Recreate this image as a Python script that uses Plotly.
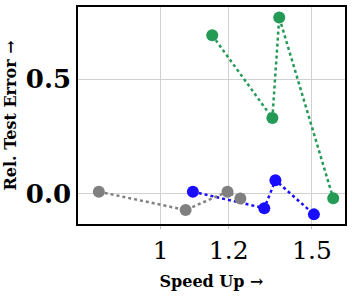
import plotly.graph_objects as go

gray_x = [0.847, 1.069, 1.196, 1.238]
gray_y = [0.010, -0.070, 0.010, -0.020]
blue_x = [1.090, 1.320, 1.360, 1.508]
blue_y = [0.010, -0.062, 0.060, -0.089]
green_x = [1.148, 1.349, 1.374, 1.588]
green_y = [0.692, 0.331, 0.770, -0.019]

x_ticks = [1, 1.2, 1.5]
x_ticktext = ["1", "1.2", "1.5"]
y_ticks = [0.0, 0.5]
y_ticktext = ["0.0", "0.5"]

FONT = "DejaVu Serif"

fig = go.Figure()
for xs, ys, col in [(blue_x, blue_y, "#1a0dff"), (gray_x, gray_y, "#808080"), (green_x, green_y, "#249a57")]:
    fig.add_trace(go.Scatter(x=xs, y=ys, mode="lines+markers",
                             line=dict(color=col, width=2.5, dash="dot"),
                             marker=dict(color=col, size=12),
                             showlegend=False))

fig.update_layout(
    width=352, height=296,
    margin=dict(l=78, r=7, t=7, b=72, autoexpand=False),
    paper_bgcolor="white", plot_bgcolor="white",
    font=dict(family=FONT, color="black"),
)
fig.update_xaxes(type="log", range=[-0.0964, 0.2146],
                 tickvals=x_ticks, ticktext=x_ticktext,
                 tickfont=dict(size=25, family=FONT),
                 showgrid=True, gridcolor="#d0d0d0", gridwidth=1,
                 showline=True, linecolor="black", linewidth=1.5, mirror=True,
                 ticks="outside", ticklen=3, tickcolor="#c0c0c0",
                 zeroline=False,
                 title=dict(text="<b>Speed Up →</b>", font=dict(size=16, family=FONT), standoff=12))
fig.update_yaxes(range=[-0.131, 0.8155],
                 tickvals=y_ticks, ticktext=["<b>%s</b>" % t for t in y_ticktext],
                 tickfont=dict(size=26, family=FONT),
                 showgrid=True, gridcolor="#d0d0d0", gridwidth=1,
                 showline=True, linecolor="black", linewidth=1.5, mirror=True,
                 ticks="", zeroline=False,
                 title=dict(text="<b>Rel. Test Error →</b>", font=dict(size=16, family=FONT), standoff=5))

fig.write_html("out.html", config={"displayModeBar": False},
               post_script="document.body.style.margin='0';")
